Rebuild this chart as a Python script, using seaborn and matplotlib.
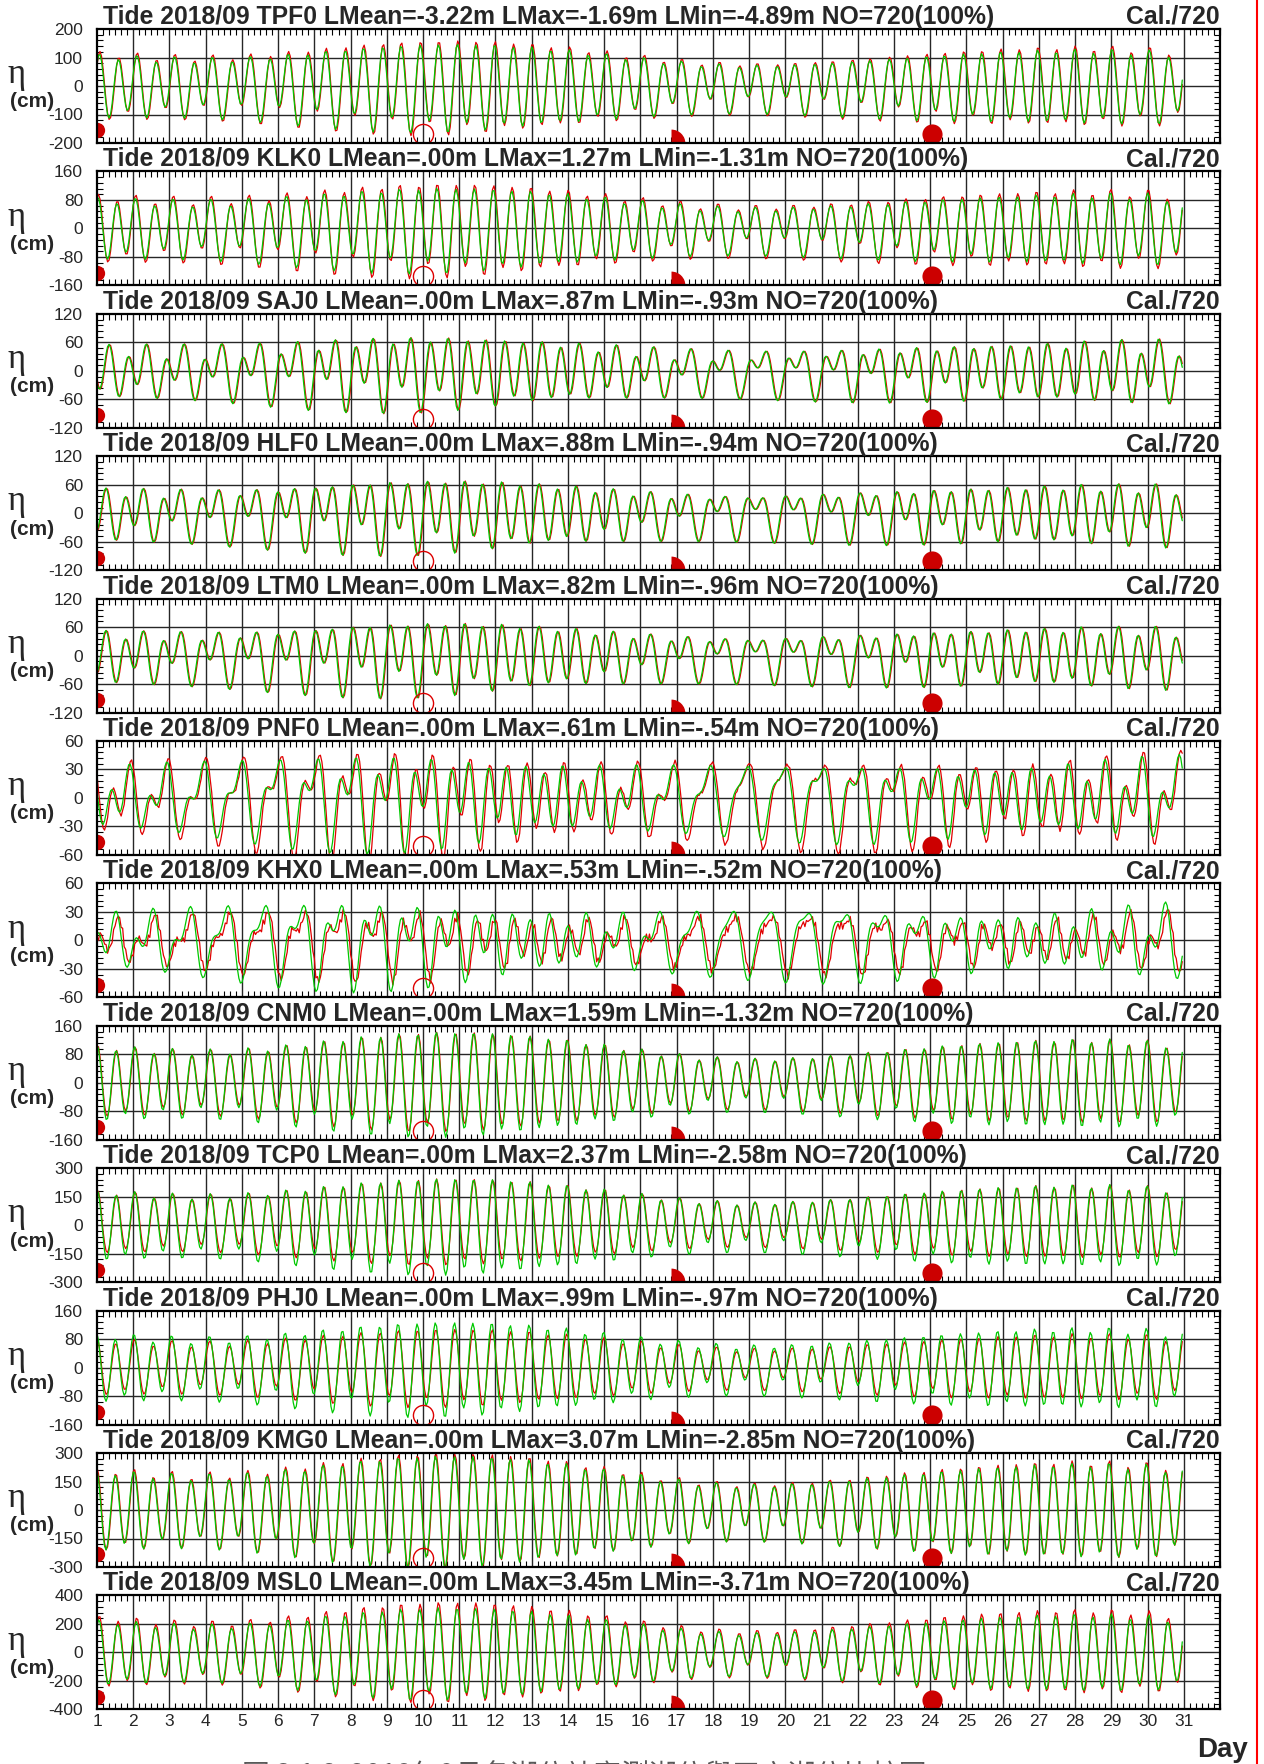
import numpy as np
import pandas as pd
import matplotlib
matplotlib.use('Agg')
import matplotlib.pyplot as plt
import seaborn as sns
from matplotlib.lines import Line2D
from matplotlib.ticker import MultipleLocator, FixedLocator
import matplotlib.transforms as mtrans

# ---- station info ----
stations = ['TPF0', 'KLK0', 'SAJ0', 'HLF0', 'LTM0', 'PNF0',
            'KHX0', 'CNM0', 'TCP0', 'PHJ0', 'KMG0', 'MSL0']
lmean = ['-3.22', '.00', '.00', '.00', '.00', '.00',
         '.00', '.00', '.00', '.00', '.00', '.00']
lmax = ['-1.69', '1.27', '.87', '.88', '.82', '.61',
        '.53', '1.59', '2.37', '.99', '3.07', '3.45']
lmin = ['-4.89', '-1.31', '-.93', '-.94', '-.96', '-.54',
        '-.52', '-1.32', '-2.58', '-.97', '-2.85', '-3.71']
y_range = [200, 160, 120, 120, 120, 60, 60, 160, 300, 160, 300, 400]
day_labels = list(range(1, 32))
moon_days = [1, 10, 16.85, 24.05]

# ---- tidal constants estimated from the curves (cm, hours) ----
m2_amp = [105, 80, 45, 45, 45, 22, 18, 100, 175, 90, 200, 215]
s2_amp = [25, 18, 12, 12, 12, 8, 6, 25, 42, 22, 50, 60]
n2_amp = [18, 15, 9, 9, 9, 4, 4, 18, 30, 16, 38, 42]
k1_amp = [18, 15, 20, 20, 20, 20, 20, 12, 20, 14, 25, 25]
o1_amp = [14, 12, 16, 16, 16, 15, 15, 10, 15, 10, 20, 20]
m2_hw = [2.5, 1.5, 9.0, 7.0, 7.0, 10.6, 14.0, 1.0, 1.0, 0.5, 0.5, 2.2]
k1_hw = [2.0, 1.5, 9.0, 6.0, 6.0, 23.0, 14.0, 1.0, 1.0, 0.5, 0.5, 2.2]
# observed / calculated ratio for highs and lows, and lag of obs (h)
obs_hi = [1.08, 1.10, 1.0, 1.0, 1.0, 1.10, 0.8, 1.0, 1.0, 0.85, 1.05, 1.12]
obs_lo = [1.05, 1.10, 1.0, 1.0, 1.0, 1.20, 0.8, 0.9, 0.8, 0.80, 1.00, 1.05]
obs_lag = [0.3, 0.3, 0.5, 0.5, 0.5, 1.0, 1.5, 0.3, 0.3, 0.3, 0.3, 0.3]
seiche_amp = [0, 0, 0, 0, 0, 1.5, 5, 0, 0, 0, 0, 0]

SPD = {'M2': 28.9841042, 'S2': 30.0, 'N2': 28.4397295,
       'K1': 15.0410686, 'O1': 13.9430356}
T_SPRING, T_PERIGEE, T_TROPIC = 252.0, 180.0, 132.0

hours = np.arange(720)


def tide(i, t):
    r = np.deg2rad
    m2 = m2_amp[i] * np.cos(r(SPD['M2'] * (t - m2_hw[i])))
    s2 = s2_amp[i] * np.cos(r(SPD['S2'] * (t - T_SPRING) + SPD['M2'] * (T_SPRING - m2_hw[i])))
    n2 = n2_amp[i] * np.cos(r(SPD['N2'] * (t - T_PERIGEE) + SPD['M2'] * (T_PERIGEE - m2_hw[i])))
    k1 = k1_amp[i] * np.cos(r(SPD['K1'] * (t - k1_hw[i])))
    o1 = o1_amp[i] * np.cos(r(SPD['O1'] * (t - T_TROPIC) + SPD['K1'] * (T_TROPIC - k1_hw[i])))
    return m2 + s2 + n2 + k1 + o1


frames = []
for i, st in enumerate(stations):
    cal = tide(i, hours)
    ob = tide(i, hours - obs_lag[i])
    ob = np.where(ob > 0, ob * obs_hi[i], ob * obs_lo[i])
    ob = ob + seiche_amp[i] * np.cos(hours * 2.6) * np.cos(hours * 0.37)
    frames.append(pd.DataFrame({'station': st, 'day': 1 + hours / 24.0,
                                'obs': ob, 'cal': cal}))
df = pd.concat(frames, ignore_index=True)

# ---- drawing ----
sns.set_theme(style='white')
plt.rcParams['font.family'] = ['Liberation Sans', 'Noto Sans CJK TC', 'DejaVu Sans']
plt.rcParams['axes.unicode_minus'] = False

W, H = 1264, 1764
fig = plt.figure(figsize=(W / 100, H / 100), dpi=100)
left, right = 97, 1220
top0, pitch, ah = 29, 142.4, 114

for i, st in enumerate(stations):
    top = top0 + i * pitch
    ax = fig.add_axes([left / W, 1 - (top + ah) / H, (right - left) / W, ah / H])
    d = df[df.station == st]
    sns.lineplot(data=d, x='day', y='obs', ax=ax, color='#e00000', lw=0.9,
                 estimator=None, sort=False)
    sns.lineplot(data=d, x='day', y='cal', ax=ax, color='#00c800', lw=0.9,
                 estimator=None, sort=False)
    R = y_range[i]
    ax.set_xlim(1, 32)
    ax.set_ylim(-R, R)
    ax.set_xlabel('')
    ax.set_ylabel('')
    ax.xaxis.set_major_locator(FixedLocator(day_labels))
    ax.xaxis.set_minor_locator(MultipleLocator(1 / 6))
    ax.yaxis.set_major_locator(FixedLocator([-R, -R / 2, 0, R / 2, R]))
    ax.yaxis.set_minor_locator(MultipleLocator(R / 10))
    ax.set_yticklabels([str(int(v)) for v in [-R, -R / 2, 0, R / 2, R]], fontsize=12.5)
    if i == len(stations) - 1:
        ax.set_xticklabels([str(v) for v in day_labels], fontsize=12.5)
    else:
        ax.set_xticklabels([])
    ax.tick_params(which='major', length=0, pad=10)
    ax.tick_params(axis='x', which='major', pad=3)
    ax.tick_params(which='minor', direction='in', length=4, width=0.8,
                   top=True, bottom=True, left=True, right=True, color='black')
    for v in day_labels[1:]:
        ax.axvline(v, color='0.15', lw=1.0, zorder=0.5)
    for v in [-R / 2, 0, R / 2]:
        ax.axhline(v, color='0.15', lw=1.0, zorder=0.5)
    for s in ax.spines.values():
        s.set_color('black')
        s.set_linewidth(1.6)

    # moon phase symbols
    tr = mtrans.blended_transform_factory(ax.transData, ax.transAxes)
    ax.plot([moon_days[0]], [0.11], 'o', color='#cc0000', ms=11, mew=0, transform=tr)
    ax.plot([moon_days[1]], [0.08], 'o', mfc='none', mec='#dd0000', ms=14.5, mew=1.0, transform=tr)
    ax.plot([moon_days[2]], [0.0], 'o', color='#cc0000', fillstyle='right',
            mfc='#cc0000', mfcalt='none', mew=0, ms=20, transform=tr)
    ax.plot([moon_days[3]], [0.08], 'o', color='#cc0000', ms=14.5, mew=0, transform=tr)

    title = (f'Tide 2018/09 {st} LMean={lmean[i]}m LMax={lmax[i]}m '
             f'LMin={lmin[i]}m NO=720(100%)')
    ax.text(6 / (right - left), 1 + 5 / ah, title, transform=ax.transAxes,
            fontsize=17.8, fontweight='bold', ha='left', va='baseline')
    ax.text(1.0, 1 + 5 / ah, 'Cal./720', transform=ax.transAxes,
            fontsize=17.8, fontweight='bold', ha='right', va='baseline')
    ax.text(-80 / (right - left), 0.6, 'η', transform=ax.transAxes,
            fontsize=25, family='Liberation Serif', ha='center', va='center')
    ax.text(-65 / (right - left), 0.36, '(cm)', transform=ax.transAxes,
            fontsize=15, fontweight='bold', ha='center', va='center')

fig.text(1248 / W, 1 - 1757 / H, 'Day', fontsize=20, fontweight='bold',
         ha='right', va='baseline')
fig.text(242 / W, 1 - 1761 / H, '圖 3.1.2  2018年9月各潮位站實測潮位與天文潮位比較圖',
         fontsize=20, color='0.35', ha='left', va='top',
         family=['Noto Sans CJK TC', 'DejaVu Sans'])
fig.add_artist(Line2D([1257 / W, 1257 / W], [0, 1], color='red', lw=1.5,
                      transform=fig.transFigure))

fig.savefig('out.png', dpi=100)
